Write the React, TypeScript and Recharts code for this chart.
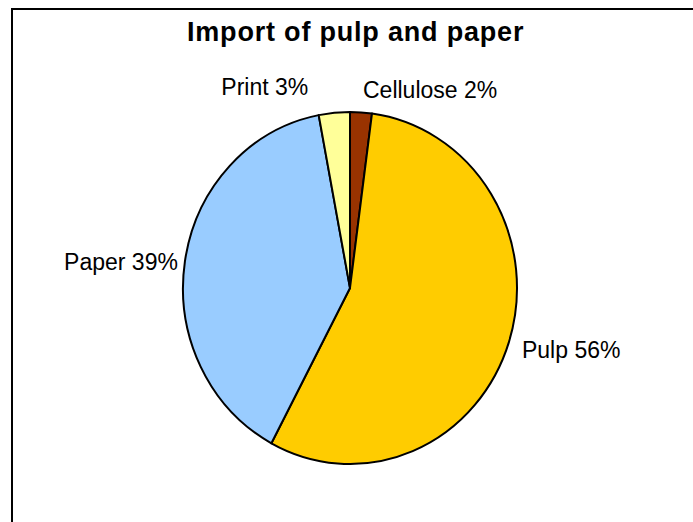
import { PieChart, Pie, Cell } from "recharts";

const categories = ["Cellulose", "Pulp", "Paper", "Print"];
const shares = [2.1, 55.7, 39.2, 3.0];
const sliceColors = ["#993300", "#FFCC00", "#99CCFF", "#FFFF99"];

const data = categories.map((name, i) => ({ name, value: shares[i] }));

// the pie in the original is a little taller than wide
const RX = 167;
const RY = 176;
const RAD = Math.PI / 180;

// label nudges, relative to the rim point at each slice's mid angle
const labelNudge: Record<string, [number, number]> = {
  Cellulose: [2, -22],
  Pulp: [13, 8],
  Paper: [-7, 0],
  Print: [-26, -26],
};

function EllipseSector(props: any) {
  const { cx, cy, startAngle, endAngle, fill } = props;
  const x0 = cx + RX * Math.cos(startAngle * RAD);
  const y0 = cy - RY * Math.sin(startAngle * RAD);
  const x1 = cx + RX * Math.cos(endAngle * RAD);
  const y1 = cy - RY * Math.sin(endAngle * RAD);
  const large = Math.abs(endAngle - startAngle) > 180 ? 1 : 0;
  const sweep = endAngle < startAngle ? 1 : 0;
  const d = `M${cx},${cy} L${x0},${y0} A${RX},${RY} 0 ${large} ${sweep} ${x1},${y1} Z`;
  return <path d={d} fill={fill} stroke="#000" strokeWidth={2} strokeLinejoin="round" />;
}

function renderLabel(props: any) {
  const { cx, cy, midAngle, name, percent } = props;
  const c = Math.cos(midAngle * RAD);
  const s = Math.sin(midAngle * RAD);
  const [dx, dy] = labelNudge[name] || [0, 0];
  const x = cx + RX * c + dx;
  const y = cy - RY * s + dy;
  return (
    <text
      x={x}
      y={y}
      textAnchor={c >= 0 ? "start" : "end"}
      dominantBaseline="central"
      fill="#000"
      fontSize={23}
      fontFamily="'Liberation Sans', Arial, sans-serif"
    >
      {`${name} ${Math.round(percent * 100)}%`}
    </text>
  );
}

export default function App() {
  return (
    <div
      style={{
        position: "absolute",
        left: 0,
        top: 0,
        width: 693,
        height: 522,
        overflow: "hidden",
        background: "#fff",
      }}
    >
      <div
        style={{
          position: "absolute",
          left: 11,
          top: 8,
          width: 720,
          height: 540,
          border: "2px solid #000",
        }}
      />
      <div
        style={{
          position: "absolute",
          left: 187,
          top: 17,
          whiteSpace: "nowrap",
          fontFamily: "'Liberation Sans', Arial, sans-serif",
          fontWeight: "bold",
          fontSize: 27,
          letterSpacing: 0.8,
        }}
      >
        Import of pulp and paper
      </div>
      <div style={{ position: "absolute", left: 0, top: 0 }}>
        <PieChart width={693} height={522} margin={{ top: 0, right: 0, bottom: 0, left: 0 }}>
          <Pie
            data={data}
            dataKey="value"
            nameKey="name"
            cx={350}
            cy={288}
            outerRadius={RX}
            startAngle={90}
            endAngle={-270}
            stroke="#000"
            strokeWidth={2}
            shape={EllipseSector}
            label={renderLabel}
            labelLine={false}
            isAnimationActive={false}
          >
            {data.map((d, i) => (
              <Cell key={d.name} fill={sliceColors[i]} />
            ))}
          </Pie>
        </PieChart>
      </div>
    </div>
  );
}
